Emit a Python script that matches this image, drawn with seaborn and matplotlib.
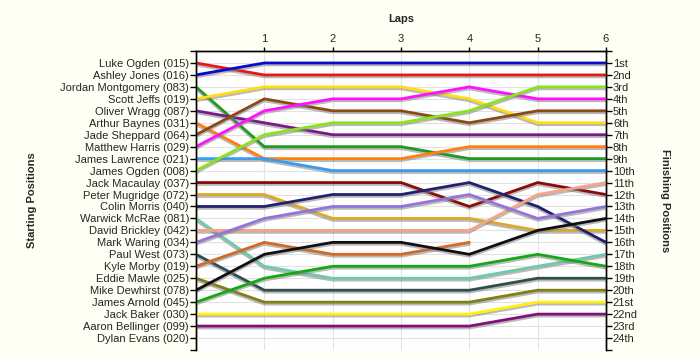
import matplotlib

matplotlib.use("Agg")
import matplotlib.patheffects as pe
import matplotlib.pyplot as plt
import pandas as pd
import seaborn as sns

# ---- data -------------------------------------------------------------
drivers = [
    "Luke Ogden (015)", "Ashley Jones (016)", "Jordan Montgomery (083)",
    "Scott Jeffs (019)", "Oliver Wragg (087)", "Arthur Baynes (031)",
    "Jade Sheppard (064)", "Matthew Harris (029)", "James Lawrence (021)",
    "James Ogden (008)", "Jack Macaulay (037)", "Peter Mugridge (072)",
    "Colin Morris (040)", "Warwick McRae (081)", "David Brickley (042)",
    "Mark Waring (034)", "Paul West (073)", "Kyle Morby (019)",
    "Eddie Mawle (025)", "Mike Dewhirst (078)", "James Arnold (045)",
    "Jack Baker (030)", "Aaron Bellinger (099)", "Dylan Evans (020)",
]

# position of each driver (in starting order) after every lap; None = out
lap0 = [1, 2, 3, 4, 5, 6, 7, 8, 9, 10, 11, 12,
        13, 14, 15, 16, 17, 18, 19, 20, 21, 22, 23, None]
lap1 = [2, 1, 8, 3, 6, 9, 4, 5, 9, 7, 11, 12,
        13, 18, 15, 14, 20, 16, 21, 17, 19, 22, 23, None]
lap2 = [2, 1, 8, 3, 7, 9, 5, 4, 10, 6, 11, 14,
        12, 19, 15, 13, 20, 17, 21, 16, 18, 22, 23, None]
lap3 = [2, 1, 8, 3, 7, 9, 5, 4, 10, 6, 11, 14,
        12, 19, 15, 13, 20, 17, 21, 16, 18, 22, 23, None]
lap4 = [2, 1, 9, 4, 7, 8, 6, 3, 10, 5, 13, 14,
        11, 19, 15, 12, 20, 16, 21, 17, 18, 22, 23, None]
lap5 = [2, 1, 9, 6, 7, 8, 5, 4, 10, 3, 11, 15,
        13, 18, 12, 14, 19, None, 20, 15, 17, 21, 22, None]
lap6 = [2, 1, 9, 6, 7, 8, 5, 4, 10, 3, 12, 15,
        16, 17, 11, 13, 19, None, 20, 14, 18, 21, 22, None]
laps = [lap0, lap1, lap2, lap3, lap4, lap5, lap6]

finish_labels = [
    "1st", "2nd", "3rd", "4th", "5th", "6th", "7th", "8th", "9th", "10th",
    "11th", "12th", "13th", "14th", "15th", "16th", "17th", "18th", "19th",
    "20th", "21st", "22nd", "23rd", "24th",
]

colours = [
    "#e81818", "#0a0acc", "#1e9a1e", "#ffdd10", "#7a1a88", "#ff8010",
    "#8b4a14", "#ff10ff", "#3a9af0", "#88e41e", "#8b0a0a", "#dcaa28",
    "#20206e", "#6ecaaa", "#f4a488", "#9474dc", "#2f4f4f", "#d26a24",
    "#7f7f14", "#101010", "#14a814", "#fff010", "#80107e", "#999999",
]

rows = []
for lap_no, positions in enumerate(laps):
    for name, pos in zip(drivers, positions):
        if pos is not None:
            rows.append({"Driver": name, "Lap": lap_no, "Position": pos})
df = pd.DataFrame(rows)
present = [d for d in drivers if d in set(df["Driver"])]

# ---- plot -------------------------------------------------------------
sns.set_style("white")
plt.rcParams["font.family"] = ["Liberation Sans", "DejaVu Sans"]
plt.rcParams["font.size"] = 8

fig = plt.figure(figsize=(7, 3.6), dpi=100, facecolor="#fffff4")
ax = fig.add_axes([0.28, 0.0278, 0.8657 - 0.28, 0.8583 - 0.0278])
ax.set_facecolor("white")

sns.lineplot(
    data=df,
    x="Lap",
    y="Position",
    hue="Driver",
    hue_order=present,
    palette=dict(zip(drivers, colours)),
    estimator=None,
    sort=False,
    legend=False,
    linewidth=2.0,
    ax=ax,
)
for line in ax.lines:
    line.set_path_effects(
        [pe.SimpleLineShadow(offset=(0, -1.4), shadow_color="#808080", alpha=0.55),
         pe.Normal()]
    )
    line.set_zorder(3)

ax.set_xlim(0, 6)
ax.set_ylim(25, 0)
ax.xaxis.tick_top()
ax.xaxis.set_label_position("top")
ax.set_xticks(range(1, 7))
ax.set_xlabel("Laps", fontweight="bold", fontsize=8, labelpad=9)
ax.set_yticks(range(0, 26))
ax.set_yticklabels([""] + drivers + [""])
ax.set_ylabel("Starting Positions", fontweight="bold", fontsize=8, labelpad=17)

ax.grid(True, color="#e2e2e2", linewidth=0.8)
ax.set_axisbelow(True)
ax.tick_params(axis="x", top=True, bottom=False, length=3, width=1,
               color="black", labelsize=8, pad=2)
ax.tick_params(axis="y", left=True, length=4, width=1, color="black",
               labelsize=8, pad=1)
for s in ["left", "right", "top"]:
    ax.spines[s].set_color("black")
    ax.spines[s].set_linewidth(1)
ax.spines["bottom"].set_visible(False)
ax.yaxis.get_gridlines()[-1].set_visible(False)

ax2 = ax.twinx()
ax2.set_ylim(25, 0)
ax2.set_yticks(range(0, 26))
ax2.set_yticklabels([""] + finish_labels + [""])
ax2.set_ylabel("Finishing Positions", rotation=270, fontweight="bold",
               fontsize=8, labelpad=23)
ax2.tick_params(axis="y", right=True, length=4, width=1, color="black",
                labelsize=8, pad=1)
ax2.grid(False)
for s in ["left", "right", "top"]:
    ax2.spines[s].set_color("black")
    ax2.spines[s].set_linewidth(1)
ax2.spines["bottom"].set_visible(False)

fig.savefig("out.png", dpi=100, facecolor=fig.get_facecolor())
plt.close(fig)
